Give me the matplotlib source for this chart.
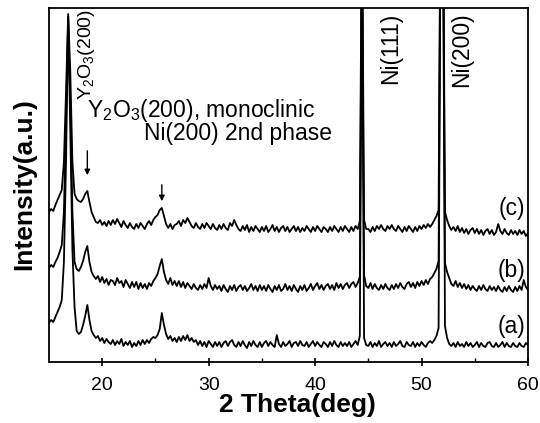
import numpy as np
import matplotlib
matplotlib.use("Agg")
import matplotlib.pyplot as plt

plt.rcParams['font.family'] = ['Liberation Sans', 'DejaVu Sans']
plt.rcParams['mathtext.default'] = 'regular'

# 2-theta sampling grid (deg), 0.2 deg step from 15 to 60
two_theta = np.round(np.arange(15.0, 60.0001, 0.2), 1)

# Intensities (a.u., offset stacked)
sample_a = [
    39, 42, 40, 45, 50, 55, 62, 100, 200, 345,
    232, 112, 55, 31, 28, 30, 37, 46, 57, 42,
    31, 27, 24, 26, 21, 24, 19, 23, 20, 18,
    22, 17, 21, 18, 23, 16, 20, 17, 21, 15,
    19, 16, 21, 17, 22, 18, 22, 19, 23, 25,
    24, 27, 33, 49, 37, 28, 23, 26, 21, 24,
    20, 25, 21, 26, 22, 27, 21, 24, 20, 22,
    17, 21, 16, 20, 15, 21, 18, 15, 20, 16,
    20, 15, 19, 21, 16, 20, 22, 17, 15, 20,
    16, 21, 17, 14, 20, 16, 21, 17, 15, 20,
    15, 19, 21, 16, 20, 17, 15, 27, 18, 15,
    20, 16, 18, 21, 15, 19, 20, 16, 21, 17,
    16, 20, 15, 18, 21, 16, 20, 17, 15, 20,
    18, 15, 20, 16, 21, 17, 15, 20, 16, 19,
    16, 20, 15, 18, 21, 17, 26, 420, 24, 17,
    16, 20, 15, 19, 16, 21, 15, 18, 20, 16,
    19, 15, 20, 16, 18, 21, 16, 15, 20, 17,
    16, 20, 15, 19, 16, 20, 17, 15, 19, 21,
    19, 22, 26, 34, 470, 470, 36, 24, 18, 16,
    19, 15, 20, 16, 18, 15, 20, 16, 19, 15,
    17, 20, 15, 19, 16, 15, 19, 20, 16, 15,
    19, 15, 17, 20, 15, 19, 16, 15, 19, 16,
    15, 19, 16, 15, 19, 17,
]
sample_b = [
    94, 97, 95, 100, 104, 110, 117, 150, 240, 345,
    262, 150, 100, 93, 91, 95, 101, 110, 116, 100,
    90, 86, 83, 86, 80, 85, 79, 83, 77, 82,
    81, 77, 84, 79, 81, 75, 82, 78, 74, 80,
    75, 80, 73, 79, 74, 78, 73, 79, 76, 81,
    84, 88, 96, 103, 90, 82, 78, 84, 77, 81,
    76, 81, 75, 80, 74, 79, 76, 73, 78, 74,
    72, 77, 73, 78, 74, 84, 76, 72, 77, 73,
    76, 71, 77, 73, 70, 76, 72, 77, 71, 75,
    77, 72, 76, 71, 74, 78, 72, 76, 71, 77,
    72, 76, 71, 77, 73, 70, 76, 72, 77, 71,
    73, 78, 72, 76, 71, 77, 73, 70, 76, 72,
    77, 71, 74, 78, 72, 76, 79, 73, 77, 72,
    76, 78, 73, 77, 72, 79, 74, 78, 73, 77,
    79, 74, 78, 80, 75, 79, 85, 440, 87, 76,
    74, 79, 73, 78, 74, 72, 77, 73, 78, 74,
    72, 77, 73, 78, 74, 79, 75, 73, 78, 80,
    75, 79, 74, 80, 76, 81, 77, 82, 78, 83,
    85, 89, 93, 101, 490, 490, 99, 90, 84, 78,
    76, 81, 75, 79, 74, 78, 73, 77, 72, 76,
    73, 71, 76, 72, 77, 73, 71, 76, 72, 75,
    71, 76, 72, 70, 75, 71, 76, 72, 70, 75,
    71, 76, 72, 82, 75, 72,
]
sample_c = [
    150, 153, 151, 157, 162, 167, 172, 200, 270, 348,
    290, 200, 168, 163, 161, 160, 163, 168, 171, 160,
    150, 145, 140, 139, 142, 137, 140, 136, 141, 137,
    142, 138, 143, 139, 135, 141, 137, 134, 139, 135,
    133, 138, 134, 139, 136, 133, 138, 141, 137, 142,
    145, 147, 152, 154, 146, 138, 134, 138, 133, 137,
    138, 141, 136, 142, 139, 144, 140, 136, 134, 139,
    135, 133, 138, 134, 139, 136, 133, 138, 134, 132,
    137, 133, 138, 134, 132, 139, 136, 142, 137, 133,
    131, 136, 132, 137, 130, 135, 131, 136, 133, 130,
    135, 131, 136, 130, 133, 137, 131, 135, 130, 134,
    136, 131, 135, 130, 133, 136, 131, 135, 130, 134,
    131, 136, 133, 130, 135, 131, 136, 133, 130, 135,
    133, 130, 135, 131, 136, 133, 130, 135, 131, 136,
    133, 130, 135, 131, 136, 133, 141, 460, 142, 133,
    133, 130, 135, 131, 136, 133, 137, 133, 131, 136,
    133, 137, 133, 131, 136, 133, 130, 135, 131, 136,
    133, 130, 135, 131, 136, 133, 137, 134, 138, 135,
    138, 142, 146, 152, 510, 510, 150, 142, 136, 132,
    135, 131, 136, 130, 134, 129, 133, 128, 132, 134,
    129, 133, 128, 132, 127, 131, 133, 128, 132, 127,
    130, 138, 131, 128, 133, 129, 127, 132, 128, 131,
    127, 132, 128, 131, 126, 129,
]

series_labels = ['(a)', '(b)', '(c)']
label_y = [35, 92, 154]

fig = plt.figure(figsize=(5.4, 4.23), dpi=100)
ax = fig.add_axes([49/540, 61/423, 479/540, 354/423])

for ys in (sample_a, sample_b, sample_c):
    ax.plot(two_theta, ys, color='black', lw=1.3)

ax.set_xlim(15, 60)
ax.set_ylim(0, 354)
ax.set_xticks([20, 30, 40, 50, 60])
ax.set_xticks([25, 35, 45, 55], minor=True)
ax.set_yticks([])
ax.tick_params(axis='x', which='major', direction='inout', length=6, width=1.2,
               labelsize=14, pad=8)
ax.tick_params(axis='x', which='minor', direction='in', length=3, width=1)
for s in ax.spines.values():
    s.set_linewidth(1.3)

fig.text(297/540, 1 - 405/423, '2 Theta(deg)', fontsize=19, fontweight='bold',
         ha='center', va='center')
fig.text(24/540, 1 - 184/423, 'Intensity(a.u.)', fontsize=19, fontweight='bold',
         ha='center', va='center', rotation=90)

# annotations
fs = 16.5
ax.text(18.55, 353, 'Y$_2$O$_3$(200)', rotation=90, ha='center', va='top', fontsize=14)
ax.text(18.55, 245, 'Y$_2$O$_3$(200), monoclinic', ha='left', va='baseline', fontsize=fs)
ax.text(23.9, 222, 'Ni(200) 2nd phase', ha='left', va='baseline', fontsize=fs)
ax.annotate('', xy=(18.6, 184), xytext=(18.6, 214),
            arrowprops=dict(arrowstyle='-|>', color='black', lw=1, mutation_scale=8))
ax.annotate('', xy=(25.6, 158), xytext=(25.6, 180),
            arrowprops=dict(arrowstyle='-|>', color='black', lw=1, mutation_scale=8))
ax.text(47.05, 349, 'Ni(111)', rotation=90, ha='center', va='top', fontsize=fs)
ax.text(53.8, 350, 'Ni(200)', rotation=90, ha='center', va='top', fontsize=fs)
for lab, yy in zip(series_labels, label_y):
    ax.text(59.75, yy, lab, ha='right', va='center', fontsize=fs)

fig.savefig('out.png', dpi=100)
